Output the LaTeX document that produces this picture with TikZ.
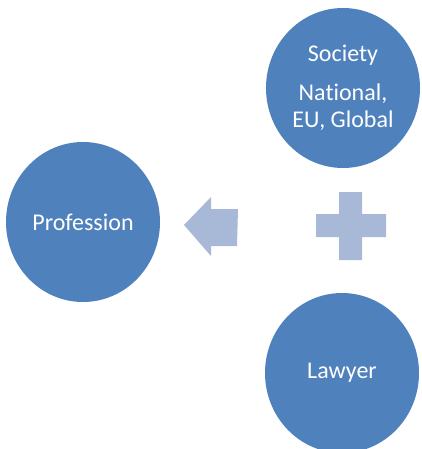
\documentclass[tikz,border=0pt]{standalone}
\usepackage{fontspec}
\setmainfont[Ligatures=NoCommon]{Carlito}
\usetikzlibrary{shapes.geometric}
\definecolor{circblue}{RGB}{79,129,189}
\definecolor{signblue}{RGB}{167,185,214}
\tikzset{
  bigcirc/.style={ellipse, fill=circblue, inner sep=0pt, minimum width=154pt,
    minimum height=160pt, text=white, align=center,
    font=\fontsize{24}{27}\selectfont},
}
\begin{document}
\begin{tikzpicture}[x=1pt,y=-1pt]
\useasboundingbox (0,0) rectangle (422,449);
\node[bigcirc] (society) at (343,88) {Society\\[12pt]National,\\EU, Global};
\node[bigcirc] (profession) at (83,222) {Profession};
\node[bigcirc] (lawyer) at (342,373) {Lawyer};

% plus
\fill[signblue] (339,192) -- (362,192) -- (362,214) -- (386,214) -- (386,237)
  -- (362,237) -- (362,260) -- (339,260) -- (339,237) -- (316,237)
  -- (316,214) -- (339,214) -- cycle;
% arrow
\fill[signblue] (184,225) -- (211,197) -- (211,209) -- (238,209)
  -- (237,246) -- (211,246) -- (211,256) -- cycle;
\end{tikzpicture}
\end{document}
